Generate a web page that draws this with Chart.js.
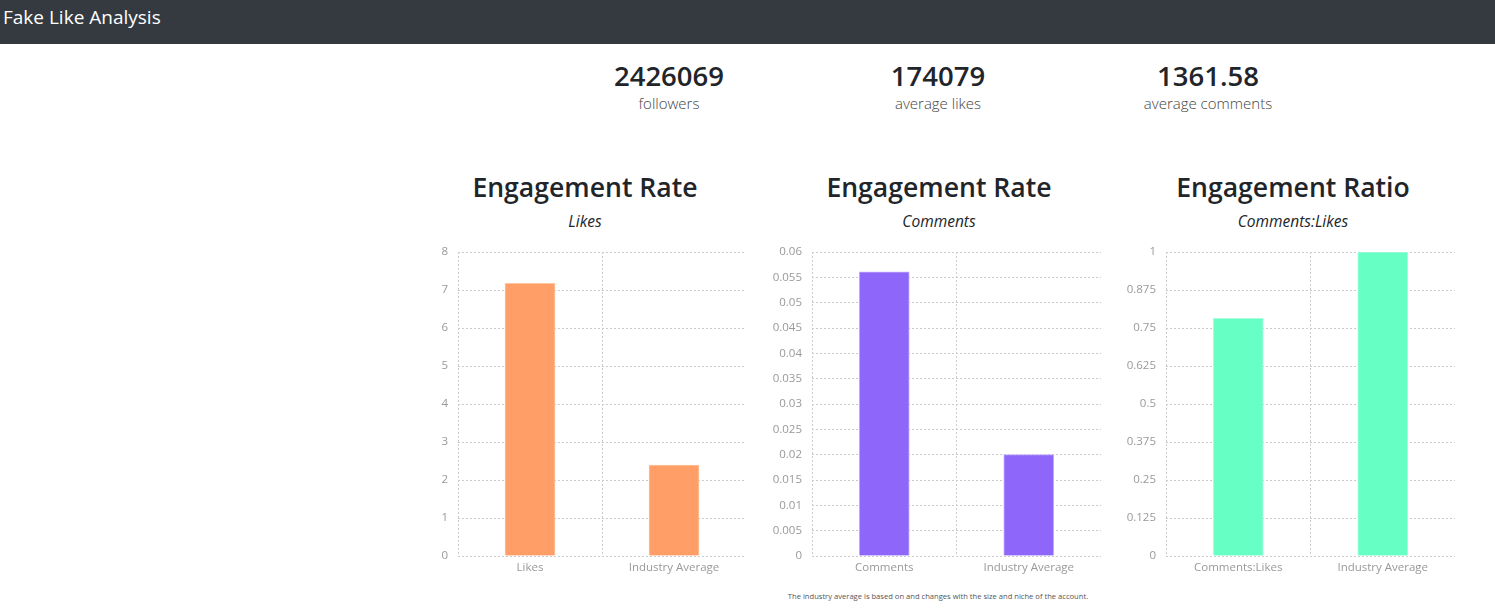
<!DOCTYPE html>
<html>
<head>
<meta charset="utf-8">
<script src="https://cdn.jsdelivr.net/npm/chart.js@4.4.1/dist/chart.umd.min.js"></script>
<style>
  html, body { margin: 0; padding: 0; background: #fff; width: 1495px; height: 615px; overflow: hidden; font-family: "Open Sans", "Noto Sans", sans-serif; color: #212529; }
  .nav { position: absolute; left: 0; top: 0; width: 1495px; height: 44px; background: #343a40; }
  .nav span { position: absolute; left: 3px; top: 5px; font-size: 19px; color: #fff; line-height: 24px; }
  .stat { position: absolute; width: 260px; text-align: center; }
  .stat .num { font-size: 27.5px; font-weight: 600; line-height: 30px; color: #212529; }
  .stat .lbl { font-size: 15px; font-weight: 300; line-height: 20px; color: #444; margin-top: 2px; }
  .ttl { position: absolute; width: 354px; text-align: center; }
  .ttl .h { font-size: 26.6px; font-weight: 600; line-height: 30px; color: #212529; }
  .ttl .s { font-size: 15.5px; font-style: italic; line-height: 20px; margin-top: 9px; color: #212529; }
  .cv { position: absolute; }
  .foot { position: absolute; left: 638px; width: 600px; top: 591px; text-align: center; font-size: 7.6px; color: #555; }
</style>
</head>
<body>
<div class="nav"><span>Fake Like Analysis</span></div>

<div class="stat" style="left:539px; top:61px"><div class="num" id="s0"></div><div class="lbl">followers</div></div>
<div class="stat" style="left:808px; top:61px"><div class="num" id="s1"></div><div class="lbl">average likes</div></div>
<div class="stat" style="left:1078px; top:61px"><div class="num" id="s2"></div><div class="lbl">average comments</div></div>

<div class="ttl" style="left:408px; top:172px"><div class="h">Engagement Rate</div><div class="s">Likes</div></div>
<div class="ttl" style="left:762px; top:172px"><div class="h">Engagement Rate</div><div class="s">Comments</div></div>
<div class="ttl" style="left:1116px; top:172px"><div class="h">Engagement Ratio</div><div class="s">Comments:Likes</div></div>

<div class="cv" style="left:408px; top:232px; width:340px; height:348px"><canvas id="c1"></canvas></div>
<div class="cv" style="left:762px; top:232px; width:341px; height:348px"><canvas id="c2"></canvas></div>
<div class="cv" style="left:1116px; top:232px; width:341px; height:348px"><canvas id="c3"></canvas></div>

<div class="foot">The industry average is based on and changes with the size and niche of the account.</div>

<script>
// ---- data ----
const followers = 2426069;
const averageLikes = 174079;
const averageComments = 1361.58;

const likesLabels = ["Likes", "Industry Average"];
const likesValues = [7.175, 2.39];

const commentsLabels = ["Comments", "Industry Average"];
const commentsValues = [0.0561, 0.02];

const ratioLabels = ["Comments:Likes", "Industry Average"];
const ratioValues = [0.782, 1];

const likesTicks = { max: 8, step: 1 };
const commentsTicks = { max: 0.06, step: 0.005 };
const ratioTicks = { max: 1, step: 0.125 };

document.getElementById('s0').textContent = followers;
document.getElementById('s1').textContent = averageLikes;
document.getElementById('s2').textContent = averageComments;

const FONT = '"Open Sans", "Noto Sans", sans-serif';
const GRID = '#cccccc';

function makeChart(id, labels, values, color, border, tk) {
  new Chart(document.getElementById(id), {
    type: 'bar',
    data: {
      labels: labels,
      datasets: [{
        data: values,
        backgroundColor: color,
        borderColor: border,
        borderWidth: 1,
        barThickness: 50
      }]
    },
    options: {
      responsive: true,
      maintainAspectRatio: false,
      animation: false,
      layout: { padding: { top: 20, right: 2, left: 0, bottom: 0 } },
      plugins: { legend: { display: false }, tooltip: { enabled: false } },
      scales: {
        x: {
          grid: {
            offset: true,
            drawTicks: false,
            color: (ctx) => (ctx.tick ? GRID : 'rgba(0,0,0,0)'),
            lineWidth: 1
          },
          border: { display: false, dash: [2, 2] },
          ticks: { color: '#999', font: { family: FONT, size: 11.5 }, padding: 5 },
          afterFit: (s) => { s.height = 24; }
        },
        y: {
          min: 0,
          max: tk.max,
          grid: { drawTicks: false, color: GRID, lineWidth: 1 },
          border: { display: false, dash: [2, 2] },
          ticks: {
            stepSize: tk.step,
            color: '#999',
            font: { family: FONT, size: 11.5 },
            padding: 10,
            callback: (v) => String(parseFloat(v.toFixed(4)))
          },
          afterFit: (s) => { s.width = 50; }
        }
      }
    }
  });
}

makeChart('c1', likesLabels, likesValues, '#ff9e66', '#ffc3a0', likesTicks);
makeChart('c2', commentsLabels, commentsValues, '#8f66fa', '#c2aefc', commentsTicks);
makeChart('c3', ratioLabels, ratioValues, '#66ffc4', '#a8ffdc', ratioTicks);
</script>
</body>
</html>
